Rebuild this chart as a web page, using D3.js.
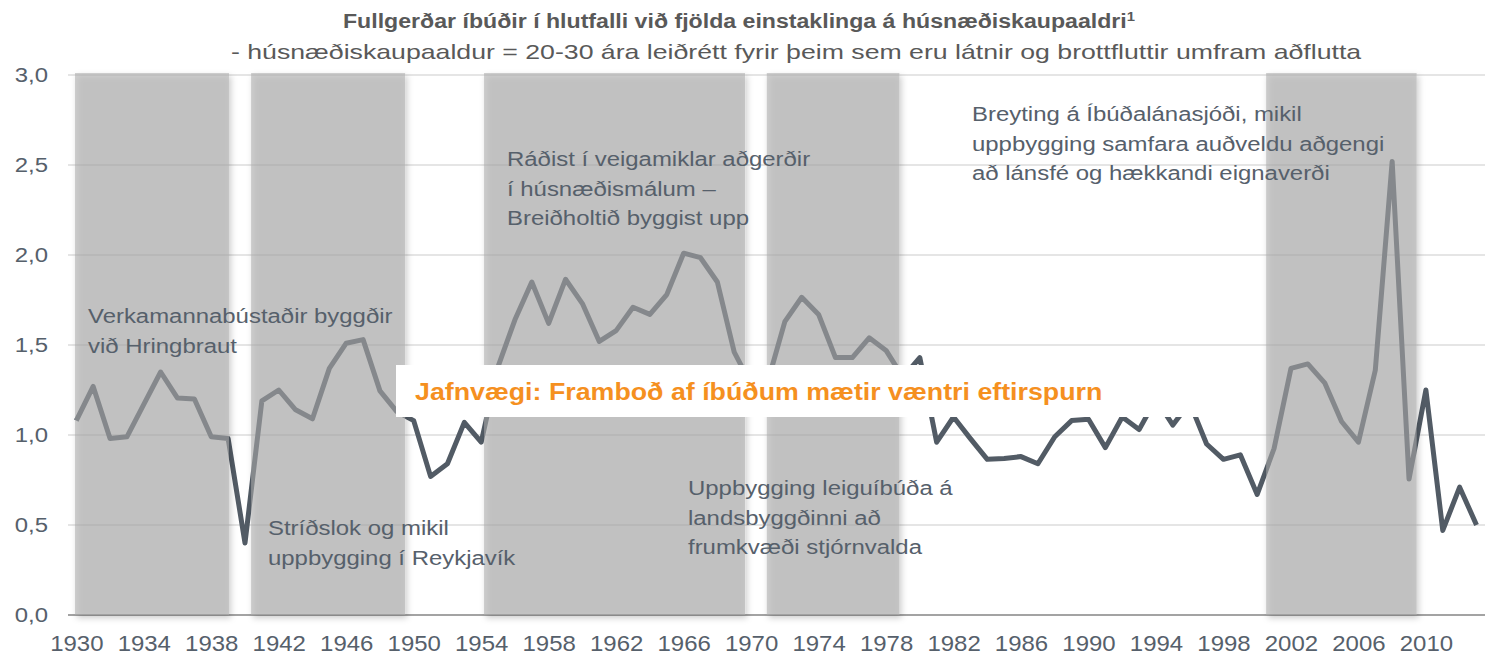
<!DOCTYPE html>
<html lang="is">
<head>
<meta charset="UTF-8" />
<title>Fullgerðar íbúðir í hlutfalli við fjölda einstaklinga</title>
<style>
    html, body {
        margin: 0;
        padding: 0;
        background: #fff;
    }
    svg {
        display: block;
        font-family: "Liberation Sans", Arial, sans-serif;
    }
    .tick text {
        fill: #56606b;
        font-size: 21px;
    }
    .x-axis .tick text {
        font-size: 22px;
    }
</style>
</head>
<body>
<svg id="svg" width="1492" height="658"></svg>
<script src="https://cdn.jsdelivr.net/npm/d3@7"></script>
<script>
// --- data ---
const years = d3.range(1930, 2014);
const ratio = [
    1.08, 1.27, 0.98, 0.99, 1.17, 1.35, 1.205, 1.20, 0.99, 0.98,      // 1930-1939
    0.40, 1.19, 1.25, 1.14, 1.09, 1.37, 1.51, 1.53, 1.245, 1.13,      // 1940-1949
    1.08, 0.77, 0.84, 1.07, 0.96, 1.38, 1.64, 1.85, 1.62, 1.865,      // 1950-1959
    1.73, 1.52, 1.58, 1.71, 1.67, 1.78, 2.01, 1.985, 1.85, 1.46,      // 1960-1969
    1.28, 1.30, 1.63, 1.765, 1.67, 1.43, 1.43, 1.54, 1.47, 1.32,      // 1970-1979
    1.43, 0.96, 1.10, 0.98, 0.865, 0.87, 0.88, 0.84, 0.99, 1.08,      // 1980-1989
    1.087, 0.93, 1.10, 1.03, 1.20, 1.055, 1.18, 0.95, 0.865, 0.89,    // 1990-1999
    0.67, 0.925, 1.37, 1.395, 1.29, 1.075, 0.96, 1.36, 2.52, 0.755,   // 2000-2009
    1.25, 0.47, 0.71, 0.50                                            // 2010-2013
];
// shaded periods (start year, end year)
const periods = [
    [1929.92, 1939.05],
    [1940.36, 1949.49],
    [1954.17, 1969.64],
    [1970.93, 1978.79],
    [2000.53, 2009.45]
];
const yTicks = [0, 0.5, 1.0, 1.5, 2.0, 2.5, 3.0];
const xTicks = d3.range(1930, 2011, 4);
const balance = 1.0;

const title = "Fullgerðar íbúðir í hlutfalli við fjölda einstaklinga á húsnæðiskaupaaldri";
const subtitle = "- húsnæðiskaupaaldur = 20-30 ára leiðrétt fyrir þeim sem eru látnir og brottfluttir umfram aðflutta";
const balanceLabel = "Jafnvægi: Framboð af íbúðum mætir væntri eftirspurn";
const notes = [
    ["Verkamannabústaðir byggðir", "við Hringbraut"],
    ["Stríðslok og mikil", "uppbygging í Reykjavík"],
    ["Ráðist í veigamiklar aðgerðir", "í húsnæðismálum –", "Breiðholtið byggist upp"],
    ["Uppbygging leiguíbúða á", "landsbyggðinni að", "frumkvæði stjórnvalda"],
    ["Breyting á Íbúðalánasjóði, mikil", "uppbygging samfara auðveldu aðgengi", "að lánsfé og hækkandi eignaverði"]
];

// --- layout ---
const stretch = 1.14;   // the source picture is stretched sideways
const plotLeft = 68, plotRight = 1485;
const x = d3.scaleLinear().domain([1930, 2013]).range([76.3, 76.3 + 83 * 16.87]);
const y = d3.scaleLinear().domain([0, 3]).range([615, 75]);

const svg = d3.select("#svg");
const defs = svg.append("defs");
defs.append("filter").attr("id", "shadeShadow")
    .attr("x", "-5%").attr("y", "-5%").attr("width", "115%").attr("height", "115%")
    .append("feDropShadow")
    .attr("dx", 2).attr("dy", 3).attr("stdDeviation", 3)
    .attr("flood-color", "#000").attr("flood-opacity", 0.35);
defs.append("filter").attr("id", "lineShadow")
    .attr("x", "-2%").attr("y", "-200%").attr("width", "104%").attr("height", "500%")
    .append("feDropShadow")
    .attr("dx", 0).attr("dy", 3).attr("stdDeviation", 2)
    .attr("flood-color", "#000").attr("flood-opacity", 0.35);

svg.append("rect").attr("width", 1492).attr("height", 658).attr("fill", "#fff");

// gridlines
svg.append("g").selectAll("line")
    .data(yTicks.filter(d => d > 0))
    .enter().append("line")
    .attr("x1", plotLeft).attr("x2", plotRight)
    .attr("y1", d => y(d)).attr("y2", d => y(d))
    .attr("stroke", "#dcdcdc").attr("stroke-width", 1.5);

// baseline axis
svg.append("line")
    .attr("x1", plotLeft).attr("x2", plotRight)
    .attr("y1", y(0)).attr("y2", y(0))
    .attr("stroke", "#a3a3a3").attr("stroke-width", 2);

// y axis labels
const yAxis = svg.append("g")
    .attr("transform", `translate(${plotLeft},0)`)
    .call(d3.axisLeft(y).tickValues(yTicks).tickSize(0).tickPadding(20 / stretch)
        .tickFormat(d => d3.format(".1f")(d).replace(".", ",")));
yAxis.select(".domain").remove();
yAxis.selectAll("text").attr("transform", `scale(${stretch},1)`);

// x axis labels
const xAxis = svg.append("g")
    .attr("class", "x-axis")
    .attr("transform", `translate(0,${y(0)})`)
    .call(d3.axisBottom(x).tickValues(xTicks).tickSize(0).tickPadding(20)
        .tickFormat(d3.format("d")));
xAxis.select(".domain").remove();
xAxis.selectAll("text").attr("transform", "scale(1.09,1)");

// the series
const line = d3.line()
    .x((d, i) => x(years[i]))
    .y(d => y(d));
svg.append("path")
    .datum(ratio)
    .attr("d", line)
    .attr("fill", "none")
    .attr("stroke", "#525b65")
    .attr("stroke-width", 5)
    .attr("stroke-linejoin", "round");

// shaded periods, drawn over the line so it shows through lighter
svg.append("g").selectAll("rect")
    .data(periods)
    .enter().append("rect")
    .attr("x", d => x(d[0]))
    .attr("width", d => x(d[1]) - x(d[0]))
    .attr("y", y(3) - 2)
    .attr("height", y(0) - y(3) + 2)
    .attr("fill", "#aaaaaa")
    .attr("fill-opacity", 0.57)
    .attr("filter", "url(#shadeShadow)");

// balance line
svg.append("line")
    .attr("x1", 72).attr("x2", 1492)
    .attr("y1", y(balance)).attr("y2", y(balance))
    .attr("stroke", "#f58e27").attr("stroke-width", 5)
    .attr("filter", "url(#lineShadow)");

// label box for the balance line
svg.append("rect")
    .attr("x", 396).attr("y", 365)
    .attr("width", 804).attr("height", 52)
    .attr("fill", "#fff");
svg.append("g").attr("transform", "translate(415,400)")
    .append("text")
    .attr("transform", `scale(${stretch},1)`)
    .attr("fill", "#f5901f")
    .attr("font-size", "23.5px")
    .attr("font-weight", "bold")
    .text(balanceLabel);

// title
const t = svg.append("g").attr("transform", "translate(343,28)")
    .append("text")
    .attr("transform", `scale(${stretch},1)`)
    .attr("fill", "#595959")
    .attr("font-size", "20.3px")
    .attr("font-weight", "bold");
t.append("tspan").text(title);
t.append("tspan").attr("font-size", "13px").attr("dy", -7).text("1");

svg.append("g").attr("transform", "translate(231,59)")
    .append("text")
    .attr("transform", "scale(1.27,1)")
    .attr("fill", "#595959")
    .attr("font-size", "21px")
    .text(subtitle);

// annotations
const notePos = [
    [88, 323],
    [268, 535],
    [507, 166],
    [688, 495],
    [972, 121]
];
notes.forEach((lines, i) => {
    const g = svg.append("g")
        .attr("transform", `translate(${notePos[i][0]},${notePos[i][1]})`);
    g.selectAll("text")
        .data(lines)
        .enter().append("text")
        .attr("transform", (d, j) => `translate(0,${j * 29.5}) scale(${stretch},1)`)
        .attr("fill", "#56606b")
        .attr("font-size", "21px")
        .text(d => d);
});
</script>
</body>
</html>
